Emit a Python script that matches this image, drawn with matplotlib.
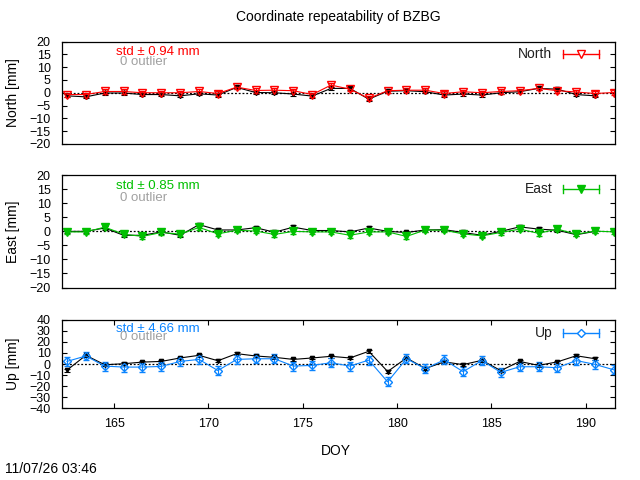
import numpy as np
import matplotlib
matplotlib.use('Agg')
import matplotlib.pyplot as plt

plt.rcParams['font.family'] = ['Liberation Sans', 'DejaVu Sans']
plt.rcParams['font.size'] = 9

doy = [162.5, 163.5, 164.5, 165.5, 166.5, 167.5, 168.5, 169.5, 170.5, 171.5,
       172.5, 173.5, 174.5, 175.5, 176.5, 177.5, 178.5, 179.5, 180.5, 181.5,
       182.5, 183.5, 184.5, 185.5, 186.5, 187.5, 188.5, 189.5, 190.5, 191.5]

# coloured series (station) and black series (reference), mm
north = [-0.7, -0.7, 0.5, 0.5, 0.0, 0.0, 0.0, 0.5, -0.3, 2.2,
         0.9, 1.0, 0.8, -0.7, 3.0, 1.4, -2.2, 0.8, 1.0, 1.0,
         -0.3, 0.4, 0.0, 0.5, 0.8, 1.7, 0.8, 0.3, -0.3, 0.1]
north_err = [0.8, 0.8, 0.8, 0.8, 0.8, 0.8, 0.8, 0.8, 0.8, 0.8,
             0.8, 0.8, 0.8, 0.8, 0.8, 0.8, 0.8, 0.8, 0.8, 0.8,
             0.8, 0.8, 0.8, 0.8, 0.8, 0.8, 0.8, 0.8, 0.8, 0.8]
north_blk = [-1.2, -1.6, -0.1, -0.1, -0.7, -0.7, -1.2, -0.4, -0.9, 2.1,
             0.1, 0.0, -0.5, -1.3, 1.7, 1.7, -2.5, 0.6, 0.8, 0.4,
             -0.9, -0.5, -0.9, 0.0, 0.4, 1.7, 1.4, -0.7, -1.2]
north_blk_err = [0.6, 0.6, 0.6, 0.6, 0.6, 0.6, 0.6, 0.6, 0.6, 0.6,
                 0.6, 0.6, 0.6, 0.6, 0.6, 0.6, 0.6, 0.6, 0.6, 0.6,
                 0.6, 0.6, 0.6, 0.6, 0.6, 0.6, 0.6, 0.6, 0.6]

east = [-0.2, -0.2, 1.5, -1.0, -1.8, -0.4, -1.0, 1.4, -0.9, 0.4,
        0.1, -1.1, 0.0, -0.2, -0.2, -1.4, -0.2, -0.2, -1.8, 0.5,
        0.4, -0.9, -1.6, -0.4, 0.8, -0.7, 0.8, -1.0, 0.1, -0.2]
east_err = [0.8, 0.8, 0.8, 0.8, 0.8, 0.8, 0.8, 0.8, 0.8, 0.8,
            0.8, 0.8, 0.8, 0.8, 0.8, 0.8, 0.8, 0.8, 0.8, 0.8,
            0.8, 0.8, 0.8, 0.8, 0.8, 0.8, 0.8, 0.8, 0.8, 0.8]
east_blk = [0.0, 0.0, 1.2, -1.4, -1.4, -0.2, -1.4, 2.4, 0.5, 0.5,
            1.3, -0.3, 1.5, 0.3, 0.3, -0.2, 1.2, 0.0, -0.4, 0.5,
            0.6, -0.4, -1.4, 0.0, 1.6, 0.8, 0.4, -1.2, 0.0]
east_blk_err = [0.6, 0.6, 0.6, 0.6, 0.6, 0.6, 0.6, 0.6, 0.6, 0.6,
                0.6, 0.6, 0.6, 0.6, 0.6, 0.6, 0.6, 0.6, 0.6, 0.6,
                0.6, 0.6, 0.6, 0.6, 0.6, 0.6, 0.6, 0.6, 0.6]

up = [2.4, 7.3, -1.8, -2.7, -2.7, -2.1, 2.4, 4.2, -5.8, 4.2,
      4.8, 4.8, -1.8, -1.2, 1.2, -1.8, 3.6, -16.0, 4.8, -4.2,
      3.8, -6.8, 3.2, -7.5, -2.4, -2.4, -3.3, 3.2, -0.3, -5.2]
up_err = [4.0, 4.0, 4.0, 4.0, 4.0, 4.0, 4.0, 4.0, 4.0, 4.0,
          4.0, 4.0, 4.0, 4.0, 4.0, 4.0, 4.0, 4.0, 4.0, 4.0,
          4.0, 4.0, 4.0, 4.0, 4.0, 4.0, 4.0, 4.0, 4.0, 4.0]
up_blk = [-5.5, 7.9, -0.6, 0.3, 1.8, 2.4, 5.5, 7.9, 3.0, 9.4,
          7.3, 6.1, 4.2, 5.5, 7.0, 5.5, 11.5, -6.7, 5.5, -4.0,
          2.0, -0.5, 3.4, -5.9, 2.4, -1.2, 2.0, 7.5, 4.8]
up_blk_err = [1.2, 1.2, 1.2, 1.2, 1.2, 1.2, 1.2, 1.2, 1.2, 1.2,
              1.2, 1.2, 1.2, 1.2, 1.2, 1.2, 1.2, 1.2, 1.2, 1.2,
              1.2, 1.2, 1.2, 1.2, 1.2, 1.2, 1.2, 1.2, 1.2]

names = ['North', 'East', 'Up']
stds = ['0.94', '0.85', '4.66']
colors = ['#ff0000', '#00c000', '#0a84ff']
markers = ['v', 'v', 'D']
filled = [False, True, False]
msizes = [6, 6, 4]
ylims = [20, 20, 40]
ysteps = [5, 5, 10]
series = [(north, north_err, north_blk, north_blk_err),
          (east, east_err, east_blk, east_blk_err),
          (up, up_err, up_blk, up_blk_err)]
xticks = [165, 170, 175, 180, 185, 190]

fig = plt.figure(figsize=(6.4, 4.8), dpi=100)
rects = [[0.0964, 0.700, 0.865, 0.2135],
         [0.0964, 0.401, 0.865, 0.234],
         [0.0964, 0.149, 0.865, 0.185]]
leg_y = [0.88, 0.88, 0.854]

for i in range(3):
    ax = fig.add_axes(rects[i])
    v, ve, b, be = series[i]
    c = colors[i]
    lim = ylims[i]
    ax.errorbar(doy[:len(b)], b, yerr=be, color='k', lw=0.8, marker='v', ms=3,
                capsize=2, elinewidth=0.8, capthick=0.8)
    ax.errorbar(doy, v, yerr=ve, color=c, lw=0.8, marker=markers[i], ms=msizes[i],
                mfc=c if filled[i] else 'none', mec=c, mew=1.0,
                capsize=2.5, elinewidth=0.8, capthick=0.8)
    ax.axhline(0, color='k', ls=(0, (1.5, 1.5)), lw=0.9, zorder=1)
    ax.set_xlim(162.22, 191.57)
    ax.set_ylim(-lim, lim)
    ax.set_yticks(np.arange(-lim, lim + 1, ysteps[i]))
    ax.tick_params(direction='in', right=True, length=3.5, width=0.8, pad=8)
    if i < 2:
        ax.tick_params(axis='x', bottom=False, labelbottom=False)
    else:
        ax.set_xticks(xticks)
        ax.tick_params(axis='x', top=True, pad=7)
    for s in ax.spines.values():
        s.set_linewidth(0.9)
    ax.set_ylabel(names[i] + ' [mm]', fontsize=10)
    ax.yaxis.set_label_coords(-0.076, 0.5)
    ax.text(165.1, 0.8 * lim, 'std \u00b1 ' + stds[i] + ' mm', color=c,
            va='center', ha='left', fontsize=9.5)
    ax.text(165.3, 0.6 * lim, '0 outlier', color='#a0a0a0',
            va='center', ha='left', fontsize=9.5)

    # legend entry, gnuplot style
    y0 = leg_y[i]
    hpx = rects[i][3] * 480
    d = 4.0 / hpx
    ax.text(0.886, y0, names[i], transform=ax.transAxes, ha='right', va='center',
            fontsize=10, color='#202020')
    ax.plot([0.905, 0.971], [y0, y0], color=c, lw=1, transform=ax.transAxes)
    ax.plot([0.905, 0.905], [y0 - d, y0 + d], color=c, lw=1, transform=ax.transAxes)
    ax.plot([0.971, 0.971], [y0 - d, y0 + d], color=c, lw=1, transform=ax.transAxes)
    ax.plot([0.938], [y0], marker=markers[i], ms=msizes[i], color=c,
            mfc=c if filled[i] else 'white', mec=c, mew=1.0, transform=ax.transAxes)

fig.text(0.529, 1 - 17 / 480, 'Coordinate repeatability of BZBG', ha='center', va='center', fontsize=10)
fig.text(336 / 640, 1 - 451 / 480, 'DOY', ha='center', va='center', fontsize=10)
fig.text(5 / 640, 1 - 469 / 480, '11/07/26 03:46', ha='left', va='center', fontsize=10)

fig.savefig('out.png', dpi=100)
